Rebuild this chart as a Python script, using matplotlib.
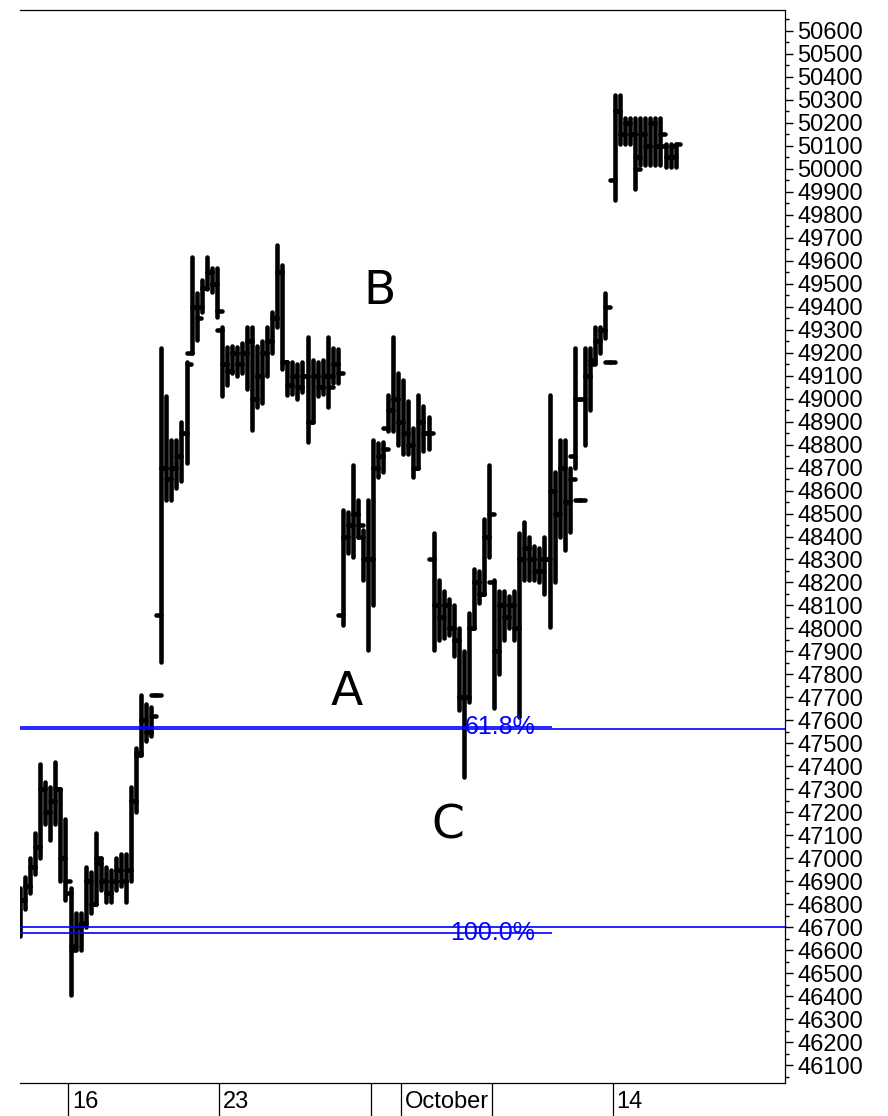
import numpy as np
import matplotlib.pyplot as plt
from matplotlib.ticker import MultipleLocator

# ================================================================
# DATA  (hourly-ish OHLC bars, x axis in trading days, 0 = Sep 16)
# ================================================================
sessions = list(range(-2, 21))
bars_in_session = [4] + [6] * 21 + [1]
slots_per_day = 6

opens = [
    46700, 46820, 46880, 46960,
    47050, 47300, 47200, 47250, 47300, 47000,
    46850, 46620, 46700, 46720, 46900, 46800,
    46980, 46900, 46850, 46900, 46950, 46900,
    46950, 47250, 47460, 47600, 47550, 47710,
    48060, 48700, 48650, 48700, 48750, 48850,
    49200, 49400, 49400, 49480, 49550, 49500,
    49300, 49150, 49120, 49200, 49150, 49200,
    49250, 49000, 49100, 49200, 49250, 49350,
    49550, 49160, 49060, 49100, 49050, 49100,
    48900, 49100, 49050, 49100, 49100, 49150,
    48060, 48400, 48450, 48500, 48400, 48300,
    48300, 48700, 48750, 48870, 48950, 49000,
    48900, 48850, 48800, 48700, 48900, 48850,
    48300, 48100, 48050, 48100, 48000, 47950,
    47700, 47700, 48000, 48200, 48150, 48400,
    48200, 47900, 48100, 48050, 48100, 48000,
    48300, 48350, 48300, 48250, 48250, 48300,
    48600, 48500, 48700, 48550, 48750, 48560,
    49000, 49100, 49170, 49250, 49300, 49160,
    49950, 50250, 50150, 50200, 50150, 50050,
    50150, 50100, 50200, 50100, 50100, 50050,
    50050,
]
highs = [
    46870, 46920, 47000, 47110,
    47410, 47330, 47310, 47420, 47300, 47170,
    46870, 46760, 46760, 46960, 46940, 47110,
    47000, 46960, 46950, 47000, 47020, 47020,
    47310, 47480, 47710, 47670, 47660, 47710,
    49220, 49010, 48820, 48820, 48900, 49160,
    49615, 49460, 49515, 49615, 49570, 49570,
    49310, 49225, 49230, 49225, 49240, 49310,
    49310, 49230, 49250, 49310, 49375, 49670,
    49580, 49160, 49160, 49150, 49160, 49270,
    49170, 49160, 49170, 49270, 49220, 49215,
    48515, 48505, 48710, 48560, 48430, 48560,
    48820, 48805, 48810, 49015, 49270, 49110,
    49080, 48990, 48870, 49015, 48970, 48920,
    48415, 48210, 48165, 48130, 48100, 48000,
    47900, 48065, 48260, 48250, 48475, 48710,
    48210, 48165, 48165, 48140, 48165, 48415,
    48465, 48400, 48360, 48350, 48400, 49015,
    48680, 48820, 48820, 48700, 49220, 48560,
    49220, 49220, 49310, 49310, 49460, 49160,
    50320, 50320, 50220, 50220, 50220, 50220,
    50220, 50220, 50220, 50220, 50110, 50110,
    50110,
]
lows = [
    46660, 46780, 46850, 46930,
    47000, 47150, 47080, 47150, 46900, 46820,
    46405, 46600, 46600, 46700, 46760, 46800,
    46860, 46810, 46810, 46860, 46880, 46810,
    46900, 47200, 47450, 47510, 47530, 47710,
    47855, 48560, 48560, 48610, 48640, 48720,
    49200, 49255, 49375, 49475, 49465, 49355,
    49010, 49060, 49110, 49100, 49110, 49040,
    48865, 48965, 48980, 49100, 49200, 49310,
    49130, 49015, 49020, 49000, 49030, 48810,
    48900, 49010, 49020, 48965, 49070, 49070,
    48015, 48330, 48310, 48400, 48210, 47905,
    48100, 48660, 48680, 48860, 48860, 48800,
    48760, 48760, 48660, 48700, 48770, 48780,
    47905, 47950, 47960, 47970, 47880, 47645,
    47355, 47680, 48000, 48110, 48150, 48310,
    47655, 47800, 47950, 48000, 47950, 47615,
    48210, 48210, 48210, 48200, 48150, 48005,
    48200, 48400, 48340, 48420, 48700, 48560,
    48800, 48950, 49155, 49200, 49265, 49160,
    49865, 50110, 50110, 50110, 49910, 50015,
    50015, 50015, 50015, 50015, 50010, 50010,
    50010,
]
closes = [
    46820, 46880, 46960, 47050,
    47300, 47200, 47250, 47300, 47000, 46900,
    46600, 46700, 46720, 46900, 46800, 47000,
    46900, 46850, 46900, 46950, 46900, 46950,
    47250, 47450, 47600, 47550, 47620, 47710,
    48700, 48650, 48700, 48750, 48850, 49150,
    49400, 49350, 49480, 49550, 49500, 49380,
    49150, 49120, 49200, 49150, 49200, 49250,
    49000, 49100, 49200, 49250, 49350, 49550,
    49160, 49060, 49100, 49050, 49100, 48900,
    49100, 49050, 49100, 49050, 49150, 49110,
    48400, 48450, 48500, 48450, 48300, 48300,
    48700, 48750, 48780, 48950, 49000, 48900,
    48850, 48800, 48700, 48900, 48850, 48850,
    48100, 48050, 48100, 48000, 47950, 47700,
    47700, 48000, 48200, 48150, 48400, 48500,
    47900, 48100, 48050, 48100, 48000, 48300,
    48350, 48300, 48250, 48300, 48300, 48600,
    48500, 48700, 48550, 48650, 49000, 48560,
    49100, 49150, 49250, 49300, 49400, 49160,
    50250, 50150, 50200, 50150, 50000, 50150,
    50100, 50200, 50100, 50150, 50050, 50100,
    50110,
]

# fibonacci retracement levels
fib_names = ["61.8%", "100.0%"]
fib_full = [47562, 46700]
fib_short = [47571, 46675]

# date axis
date_ticks = [0, 5, 10, 11, 14, 18]
date_labels = ["16", "23", "", "October", "", "14"]

# wave labels
wave_names = ["A", "B", "C"]
wave_x = [9.22, 10.31, 12.56]
wave_y = [47723, 49464, 47140]

# ================================================================
# BAR TIMES
# ================================================================
times = []
for d, n in zip(sessions, bars_in_session):
    start = slots_per_day - n if d == sessions[0] else 0
    for s in range(start, start + n):
        times.append(d + (s + 0.5) / slots_per_day)
times = np.array(times)

# ================================================================
# PLOTTING
# ================================================================
W, H = 888, 1116
fig = plt.figure(figsize=(W / 100, H / 100), dpi=100)
ax = fig.add_axes([20 / W, 33 / H, 765 / W, 1073 / H])

tick_w = 0.16
lw = 3.3
v = ax.vlines(times, lows, highs, color="black", lw=lw)
o = ax.hlines(opens, times - tick_w, times, color="black", lw=lw)
c = ax.hlines(closes, times, times + tick_w, color="black", lw=lw)
for coll in (v, o, c):
    coll.set_capstyle("round")

x0, x1 = -1.587, 23.70
ax.set_xlim(x0, x1)
ax.set_ylim(46022, 50691)

split = 16.0
for name, yf, ys in zip(fib_names, fib_full, fib_short):
    ax.axhline(yf, color="#0000ff", lw=1.2)
    ax.hlines(ys, x0, split, color="#0000ff", lw=1.2)
    ax.text(15.44, ys, name, color="#0000ff", ha="right", va="center",
            fontsize=18, family=["Liberation Sans", "DejaVu Sans"])

for name, wx, wy in zip(wave_names, wave_x, wave_y):
    ax.text(wx, wy, name, ha="center", va="center", fontsize=34,
            family="DejaVu Sans", color="black")

# y axis on the right
ax.yaxis.tick_right()
ax.yaxis.set_major_locator(MultipleLocator(100))
ax.yaxis.set_minor_locator(MultipleLocator(50))
ax.tick_params(axis="y", which="major", length=6, width=1, pad=3,
               labelsize=17, direction="out")
ax.tick_params(axis="y", which="minor", length=3, width=1, direction="out")
for lab in ax.get_yticklabels():
    lab.set_family(["Liberation Sans", "DejaVu Sans"])

# x axis: separators hanging below the plot
ax.set_xticks(date_ticks)
ax.set_xticklabels([])
ax.tick_params(axis="x", which="major", length=24, width=0.9, direction="out")
for t, lab in zip(date_ticks, date_labels):
    if lab:
        ax.annotate(lab, xy=(t, 0), xycoords=("data", "axes fraction"),
                    xytext=(4, -19), textcoords="offset pixels",
                    ha="left", va="center", fontsize=17,
                    family=["Liberation Sans", "DejaVu Sans"])

ax.spines["left"].set_visible(False)
for s in ("top", "right", "bottom"):
    ax.spines[s].set_linewidth(0.9)

fig.savefig("out.png", dpi=100)
